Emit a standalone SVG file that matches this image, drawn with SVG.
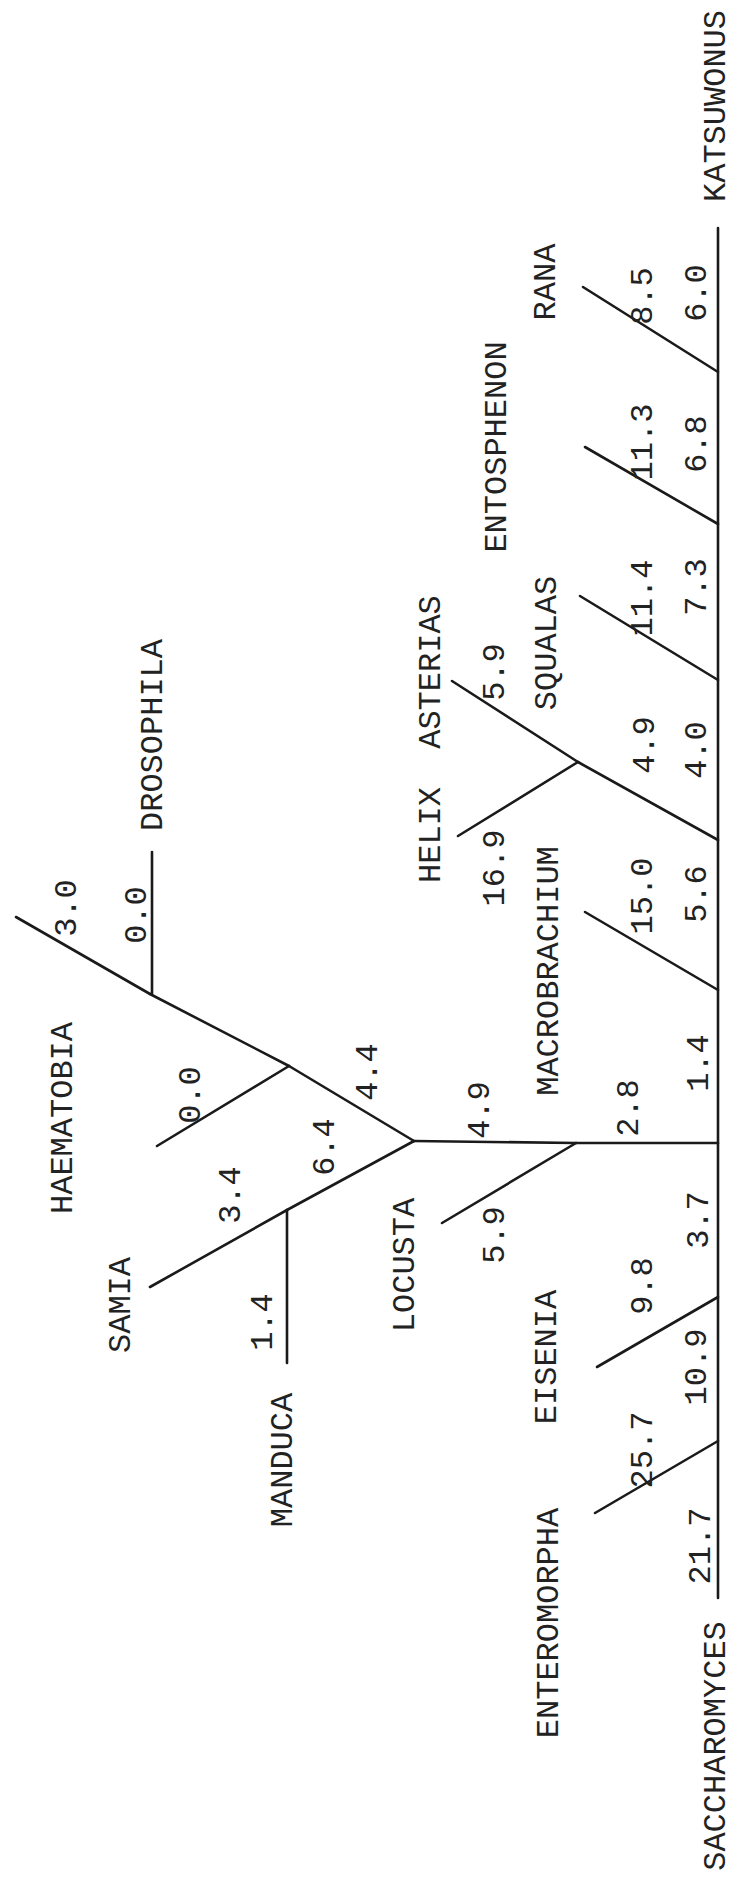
<svg xmlns="http://www.w3.org/2000/svg" width="737" height="1881" viewBox="0 0 737 1881">
<style>
text{font-family:"Liberation Mono","DejaVu Sans Mono",monospace;font-size:32px;fill:#222;text-anchor:middle}
line{stroke:#1a1a1a;stroke-width:2.6;fill:none;stroke-linecap:round}
</style>
<rect width="737" height="1881" fill="#fff"/>
<g id="connectors">
<line x1="718" y1="228" x2="718" y2="1598"/>
<line x1="718" y1="372" x2="583" y2="287"/>
<line x1="718" y1="524" x2="585" y2="447"/>
<line x1="718" y1="680" x2="580" y2="596"/>
<line x1="718" y1="840" x2="578" y2="762"/>
<line x1="578" y1="762" x2="452" y2="681"/>
<line x1="578" y1="762" x2="458" y2="836"/>
<line x1="718" y1="990" x2="585" y2="912"/>
<line x1="718" y1="1143" x2="576" y2="1143"/>
<line x1="576" y1="1143" x2="414" y2="1141"/>
<line x1="576" y1="1143" x2="442" y2="1223"/>
<line x1="414" y1="1141" x2="289" y2="1066"/>
<line x1="289" y1="1066" x2="150" y2="994"/>
<line x1="152" y1="994" x2="152" y2="852"/>
<line x1="150" y1="994" x2="16" y2="917"/>
<line x1="289" y1="1066" x2="157" y2="1146"/>
<line x1="414" y1="1141" x2="287" y2="1210"/>
<line x1="287" y1="1210" x2="150" y2="1287"/>
<line x1="287" y1="1210" x2="287" y2="1363"/>
<line x1="718" y1="1297" x2="597" y2="1367"/>
<line x1="718" y1="1441" x2="595" y2="1513"/>
</g>
<g id="katsuwonus"><text transform="translate(715,106) rotate(-90)" y="10">KATSUWONUS</text></g>
<g id="rana"><text transform="translate(545,282) rotate(-90)" y="10">RANA</text></g>
<g id="entosphenon"><text transform="translate(496,447) rotate(-90)" y="10">ENTOSPHENON</text></g>
<g id="squalus"><text transform="translate(546,643) rotate(-90)" y="10">SQUALAS</text></g>
<g id="asterias"><text transform="translate(430,672) rotate(-90)" y="10">ASTERIAS</text></g>
<g id="helix"><text transform="translate(430,835) rotate(-90)" y="10">HELIX</text></g>
<g id="macrobrachium"><text transform="translate(548,971) rotate(-90)" y="10">MACROBRACHIUM</text></g>
<g id="drosophila"><text transform="translate(152,735) rotate(-90)" y="10">DROSOPHILA</text></g>
<g id="haematobia"><text transform="translate(62,1118) rotate(-90)" y="10">HAEMATOBIA</text></g>
<g id="locusta"><text transform="translate(404,1265) rotate(-90)" y="10">LOCUSTA</text></g>
<g id="samia"><text transform="translate(120,1305) rotate(-90)" y="10">SAMIA</text></g>
<g id="manduca"><text transform="translate(282,1460) rotate(-90)" y="10">MANDUCA</text></g>
<g id="eisenia"><text transform="translate(546,1357) rotate(-90)" y="10">EISENIA</text></g>
<g id="enteromorpha"><text transform="translate(548,1623) rotate(-90)" y="10">ENTEROMORPHA</text></g>
<g id="saccharomyces"><text transform="translate(715,1746) rotate(-90)" y="10">SACCHAROMYCES</text></g>
<g id="branch-lengths">
<text transform="translate(696,293) rotate(-90)" y="10">6.0</text>
<text transform="translate(642,296) rotate(-90)" y="10">8.5</text>
<text transform="translate(642,442) rotate(-90)" y="10">11.3</text>
<text transform="translate(696,444) rotate(-90)" y="10">6.8</text>
<text transform="translate(642,598) rotate(-90)" y="10">11.4</text>
<text transform="translate(696,587) rotate(-90)" y="10">7.3</text>
<text transform="translate(494,672) rotate(-90)" y="10">5.9</text>
<text transform="translate(644,745) rotate(-90)" y="10">4.9</text>
<text transform="translate(696,750) rotate(-90)" y="10">4.0</text>
<text transform="translate(494,868) rotate(-90)" y="10">16.9</text>
<text transform="translate(642,896) rotate(-90)" y="10">15.0</text>
<text transform="translate(696,894) rotate(-90)" y="10">5.6</text>
<text transform="translate(698,1063) rotate(-90)" y="10">1.4</text>
<text transform="translate(628,1108) rotate(-90)" y="10">2.8</text>
<text transform="translate(479,1110) rotate(-90)" y="10">4.9</text>
<text transform="translate(494,1235) rotate(-90)" y="10">5.9</text>
<text transform="translate(698,1220) rotate(-90)" y="10">3.7</text>
<text transform="translate(642,1286) rotate(-90)" y="10">9.8</text>
<text transform="translate(696,1367) rotate(-90)" y="10">10.9</text>
<text transform="translate(642,1450) rotate(-90)" y="10">25.7</text>
<text transform="translate(700,1546) rotate(-90)" y="10">21.7</text>
<text transform="translate(66,908) rotate(-90)" y="10">3.0</text>
<text transform="translate(136,915) rotate(-90)" y="10">0.0</text>
<text transform="translate(190,1095) rotate(-90)" y="10">0.0</text>
<text transform="translate(367,1072) rotate(-90)" y="10">4.4</text>
<text transform="translate(324,1147) rotate(-90)" y="10">6.4</text>
<text transform="translate(230,1195) rotate(-90)" y="10">3.4</text>
<text transform="translate(262,1322) rotate(-90)" y="10">1.4</text>
</g>
</svg>
